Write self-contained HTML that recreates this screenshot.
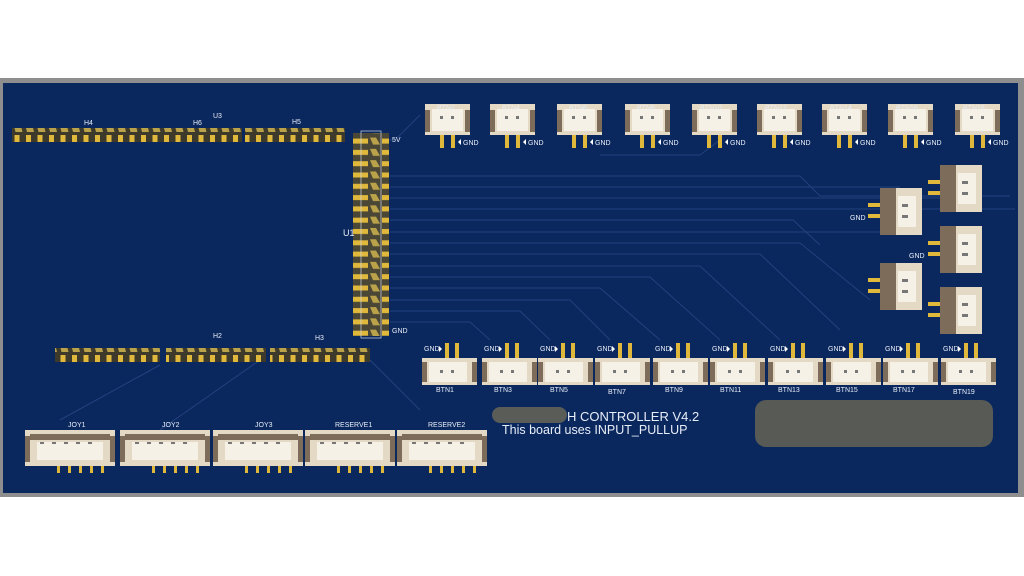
<!DOCTYPE html>
<html><head><meta charset="utf-8"><style>
html,body{margin:0;padding:0;background:#fff;}
svg{display:block}
text{font-family:"Liberation Sans",sans-serif;fill:#e8eef8}
</style></head><body>
<svg width="1024" height="576" viewBox="0 0 1024 576" xmlns="http://www.w3.org/2000/svg">
<defs>
<pattern id="hp" width="11.5" height="20" patternUnits="userSpaceOnUse">
<rect width="11.5" height="20" fill="#3d3a2c"/>
<polygon points="2,4 9,4 11,12 4,12" fill="#b9a24a"/>
<rect x="3" y="0" width="5" height="4" fill="#e0b93c"/>
<rect x="3" y="15" width="5" height="5" fill="#e0b93c"/>
</pattern>
<pattern id="vp" width="30" height="11.3" patternUnits="userSpaceOnUse">
<rect width="30" height="11.3" fill="#4a4736"/>
<rect x="0" y="3" width="8" height="5" fill="#e0b93c"/>
<rect x="22" y="3" width="8" height="5" fill="#e0b93c"/>
<polygon points="10,2 16,2 20,9 13,9" fill="#b9a24a"/>
</pattern>
<g id="ct">
<rect x="0" y="0" width="45" height="31" fill="#e3d9c4"/>
<rect x="0" y="6" width="5" height="22" fill="#7d6c5a"/>
<rect x="40" y="6" width="5" height="22" fill="#7d6c5a"/>
<rect x="7" y="5" width="31" height="22" fill="#f5f1e6"/>
<rect x="15" y="12" width="3" height="3" fill="#777"/>
<rect x="26" y="12" width="3" height="3" fill="#777"/>
<rect x="15" y="31" width="4" height="13" fill="#e0b93c"/>
<rect x="26" y="31" width="4" height="13" fill="#e0b93c"/>
<polygon points="33,38 36,35 36,41" fill="#fff"/>
<text x="38" y="41" font-size="7">GND</text>
</g>
<g id="cb">
<rect x="0" y="10" width="55" height="27" fill="#e3d9c4"/>
<rect x="0" y="14" width="5" height="20" fill="#7d6c5a"/>
<rect x="50" y="14" width="5" height="20" fill="#7d6c5a"/>
<rect x="7" y="14" width="38" height="20" fill="#f5f1e6"/>
<rect x="18" y="22" width="3" height="3" fill="#777"/>
<rect x="29" y="22" width="3" height="3" fill="#777"/>
<rect x="23" y="-5" width="4" height="15" fill="#e0b93c"/>
<rect x="33" y="-5" width="4" height="15" fill="#e0b93c"/>
<polygon points="17,-2 20,1 17,4" fill="#fff"/>
<text x="2" y="3" font-size="7">GND</text>
</g>
<g id="cr">
<rect x="0" y="0" width="42" height="47" fill="#e3d9c4"/>
<rect x="0" y="0" width="16" height="47" fill="#7d6c5a"/>
<rect x="18" y="8" width="18" height="31" fill="#f5f1e6"/>
<rect x="22" y="16" width="6" height="3" fill="#777"/>
<rect x="22" y="27" width="6" height="3" fill="#777"/>
<rect x="-12" y="15" width="12" height="4" fill="#e0b93c"/>
<rect x="-12" y="26" width="12" height="4" fill="#e0b93c"/>
</g>
<g id="cj">
<rect x="0" y="0" width="90" height="36" fill="#e3d9c4"/>
<rect x="0" y="6" width="5" height="26" fill="#7d6c5a"/>
<rect x="85" y="6" width="5" height="26" fill="#7d6c5a"/>
<rect x="5" y="4" width="80" height="6" fill="#7d6c5a"/>
<rect x="12" y="12" width="66" height="18" fill="#f5f1e6"/>
<rect x="15" y="12" width="4" height="2" fill="#777"/><rect x="27" y="12" width="4" height="2" fill="#777"/><rect x="39" y="12" width="4" height="2" fill="#777"/><rect x="51" y="12" width="4" height="2" fill="#777"/><rect x="63" y="12" width="4" height="2" fill="#777"/>
<rect x="32" y="36" width="3" height="7" fill="#e0b93c"/><rect x="43" y="36" width="3" height="7" fill="#e0b93c"/><rect x="54" y="36" width="3" height="7" fill="#e0b93c"/><rect x="65" y="36" width="3" height="7" fill="#e0b93c"/><rect x="76" y="36" width="3" height="7" fill="#e0b93c"/>
</g>
</defs>
<rect x="0" y="78" width="1024" height="419" fill="#8e8e8e"/>
<rect x="3" y="83" width="1015" height="410" fill="#0b285e"/>
<g stroke="#22417e" stroke-width="1" fill="none">
<path d="M390 176 H800 L820 196 H1010"/>
<path d="M390 187 H900"/>
<path d="M390 198 H960"/>
<path d="M390 209 H1015"/>
<path d="M390 220 H793 L820 245"/>
<path d="M390 232 H880"/>
<path d="M390 243 H800 L870 300"/>
<path d="M390 254 H760 L840 330"/>
<path d="M390 266 H700 L780 340"/>
<path d="M390 277 H650 L720 340"/>
<path d="M390 288 H600 L660 340"/>
<path d="M390 300 H570 L610 340"/>
<path d="M390 311 H520 L550 340"/>
<path d="M390 322 H470 L490 340"/>
<path d="M380 140 H395 L420 115"/>
<path d="M160 365 L60 420"/>
<path d="M260 360 L160 430"/>
<path d="M370 360 L420 410"/>
<path d="M600 155 H700 L720 140"/>
</g>
<rect x="12" y="128" width="128" height="14" fill="url(#hp)"/>
<rect x="140" y="128" width="102" height="14" fill="url(#hp)"/>
<rect x="245" y="128" width="100" height="14" fill="url(#hp)"/>
<rect x="55" y="348" width="105" height="14" fill="url(#hp)"/>
<rect x="166" y="348" width="100" height="14" fill="url(#hp)"/>
<rect x="270" y="348" width="100" height="14" fill="url(#hp)"/>
<rect x="353" y="133" width="36" height="203" fill="url(#vp)"/>
<rect x="361" y="131" width="20" height="207" fill="none" stroke="#cfd6e6" stroke-width="0.7"/>
<g font-size="7">
<text x="84" y="125">H4</text><text x="193" y="125">H6</text><text x="213" y="118">U3</text><text x="292" y="124">H5</text>
<text x="213" y="338">H2</text><text x="315" y="340">H3</text><text x="343" y="236" font-size="9">U1</text>
<text x="392" y="142">5V</text><text x="392" y="333">GND</text>
</g>
<use href="#ct" x="425" y="104"/><use href="#ct" x="490" y="104"/><use href="#ct" x="557" y="104"/><use href="#ct" x="625" y="104"/><use href="#ct" x="692" y="104"/><use href="#ct" x="757" y="104"/><use href="#ct" x="822" y="104"/><use href="#ct" x="888" y="104"/><use href="#ct" x="955" y="104"/>
<g font-size="7"><text x="437" y="110">BTN2</text><text x="502" y="110">BTN4</text><text x="569" y="110">BTN6</text><text x="637" y="110">BTN8</text><text x="700" y="110">BTN10</text><text x="765" y="110">BTN12</text><text x="830" y="110">BTN14</text><text x="896" y="110">BTN16</text><text x="963" y="110">BTN18</text></g>
<use href="#cb" x="422" y="348"/><use href="#cb" x="482" y="348"/><use href="#cb" x="538" y="348"/><use href="#cb" x="595" y="348"/><use href="#cb" x="653" y="348"/><use href="#cb" x="710" y="348"/><use href="#cb" x="768" y="348"/><use href="#cb" x="826" y="348"/><use href="#cb" x="883" y="348"/><use href="#cb" x="941" y="348"/>
<g font-size="7"><text x="436" y="392">BTN1</text><text x="494" y="392">BTN3</text><text x="550" y="392">BTN5</text><text x="608" y="394">BTN7</text><text x="665" y="392">BTN9</text><text x="720" y="392">BTN11</text><text x="778" y="392">BTN13</text><text x="836" y="392">BTN15</text><text x="893" y="392">BTN17</text><text x="953" y="394">BTN19</text></g>
<use href="#cr" x="880" y="188"/><use href="#cr" x="940" y="165"/><use href="#cr" x="940" y="226"/><use href="#cr" x="880" y="263"/><use href="#cr" x="940" y="287"/>
<g font-size="7"><text x="850" y="220">GND</text><text x="909" y="258">GND</text></g>
<use href="#cj" x="25" y="430"/><use href="#cj" x="120" y="430"/><use href="#cj" x="213" y="430"/><use href="#cj" x="305" y="430"/><use href="#cj" x="397" y="430"/>
<g font-size="7"><text x="68" y="427">JOY1</text><text x="162" y="427">JOY2</text><text x="255" y="427">JOY3</text><text x="335" y="427">RESERVE1</text><text x="428" y="427">RESERVE2</text></g>
<rect x="492" y="407" width="75" height="16" rx="8" fill="#5a5c58"/>
<text x="567" y="421" font-size="13">H CONTROLLER V4.2</text>
<text x="502" y="434" font-size="12.5">This board uses INPUT_PULLUP</text>
<rect x="755" y="400" width="238" height="47" rx="11" fill="#575a55"/>
</svg>
</body></html>
